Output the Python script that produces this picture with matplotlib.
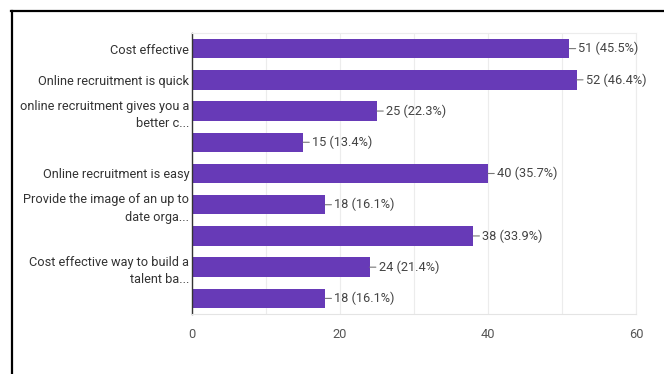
import matplotlib
matplotlib.use("Agg")
import matplotlib.pyplot as plt
from matplotlib import font_manager
from matplotlib.lines import Line2D

# Responses per option, top to bottom
options = [
    "Cost effective",
    "Online recruitment is quick",
    "online recruitment gives you a\nbetter c...",
    "",
    "Online recruitment is easy",
    "Provide the image of an up to\ndate orga...",
    "",
    "Cost effective way to build a\ntalent ba...",
    "",
]
counts = [51, 52, 25, 15, 40, 18, 38, 24, 18]
percents = [45.5, 46.4, 22.3, 13.4, 35.7, 16.1, 33.9, 21.4, 16.1]
x_ticks = [0, 20, 40, 60]

BAR_COLOR = "#673ab7"

installed = {f.name for f in font_manager.fontManager.ttflist}
family = "Liberation Sans Narrow" if "Liberation Sans Narrow" in installed else "Roboto"
plt.rcParams["font.family"] = family

fig = plt.figure(figsize=(6.64, 3.74), dpi=100)
ax = fig.add_axes([0.2892, 0.1604, 0.9578 - 0.2892, 0.9118 - 0.1604])

pos = list(range(len(counts)))
ax.barh(pos, counts, height=0.62, color=BAR_COLOR, zorder=2)

for i, (c, p) in enumerate(zip(counts, percents)):
    ax.annotate(f"{c} ({p}%)", xy=(c, i), xytext=(6.5, 0),
                textcoords="offset points", va="center", ha="left",
                fontsize=9.2, color="#444444",
                arrowprops=dict(arrowstyle="-", color="#777777", lw=0.8,
                                shrinkA=0, shrinkB=0))

ax.set_xlim(0, 60)
ax.set_ylim(len(counts) - 0.5, -0.5)
ax.set_xticks(x_ticks)
ax.set_xticks(range(0, 61, 10), minor=True)
ax.xaxis.grid(True, which="both", color="#ececec", lw=0.8, zorder=0)
ax.set_axisbelow(True)

labelled = [i for i, o in enumerate(options) if o]
ax.set_yticks(labelled)
ax.set_yticklabels([options[i] for i in labelled], fontsize=9.2, color="#333333",
                   linespacing=1.45)
ax.tick_params(axis="y", length=0, pad=2)
ax.tick_params(axis="x", which="both", length=0, pad=10, labelsize=9.2,
               labelcolor="#555555")

for side in ("top", "right"):
    ax.spines[side].set_color("#ececec")
    ax.spines[side].set_linewidth(0.8)
ax.spines["bottom"].set_color("#e4e4e4")
ax.spines["bottom"].set_linewidth(0.8)
ax.spines["left"].set_color("#333333")
ax.spines["left"].set_linewidth(1.0)

# outer frame, open on the right and bottom
fig.add_artist(Line2D([11 / 664, 1], [1 - 10.5 / 374] * 2, color="black", lw=1.6))
fig.add_artist(Line2D([11.5 / 664] * 2, [0, 1 - 10.5 / 374], color="black", lw=1.6))

fig.savefig("out.png", dpi=100)
